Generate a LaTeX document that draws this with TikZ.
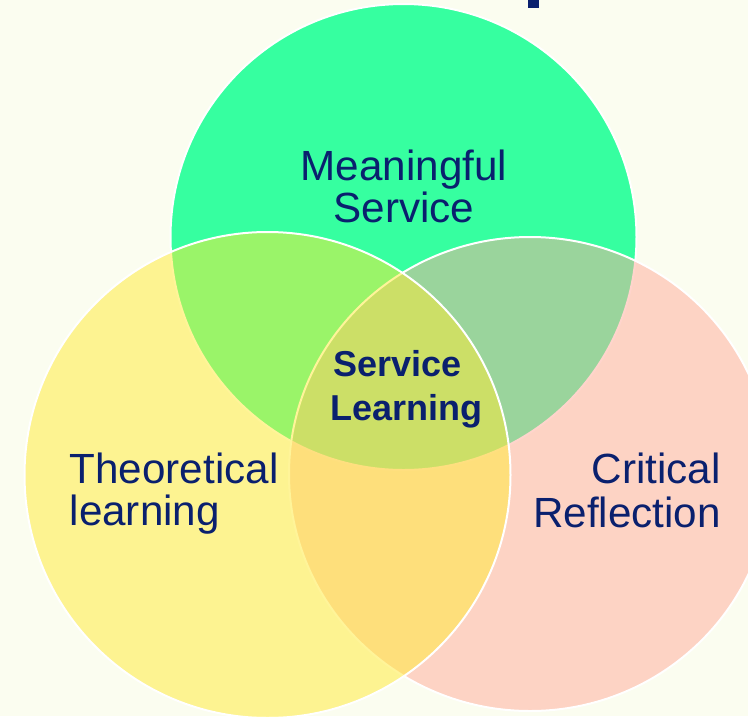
\documentclass[tikz,border=0pt]{standalone}
\usepackage{fontspec}
\setmainfont{Liberation Sans}
\definecolor{bg}{RGB}{251,253,240}
\definecolor{grn}{RGB}{54,255,160}
\definecolor{ylw}{RGB}{255,235,52}
\definecolor{pnk}{RGB}{255,171,154}
\definecolor{navy}{RGB}{10,32,110}
\tikzset{
  ring/.style={draw=white, line width=2pt},
  lbl/.style={text=navy, inner sep=0pt, font=\fontsize{42.2}{42}\selectfont},
  core/.style={text=navy, inner sep=0pt, font=\bfseries\fontsize{36}{44}\selectfont}
}
\begin{document}
\begin{tikzpicture}[x=1pt,y=-1pt]
\useasboundingbox (0,0) rectangle (748,716);
\clip (0,0) rectangle (748,716);
\fill[bg] (0,0) rectangle (748,716);
\fill[navy] (528,0) rectangle (539,8);
\path[ring, fill=grn] (403.5,237) circle[radius=233];
\path[ring, fill=pnk, fill opacity=0.5] (530,474) ellipse[x radius=241, y radius=237];
\path[ring, fill=ylw, fill opacity=0.5] (267.5,475) circle[radius=243];
\node[lbl, anchor=base] (m1) at (404,180) {Meaningful};
\node[lbl, anchor=base] (m2) at (404,222) {Service};
\node[lbl, anchor=base west] (t1) at (69.5,483) {Theoretical};
\node[lbl, anchor=base west] (t2) at (69.5,525) {learning};
\node[lbl, anchor=base east] (c1) at (721,483) {Critical};
\node[lbl, anchor=base east] (c2) at (721,527) {Reflection};
\node[core, anchor=base west] (s1) at (333.5,376) {Service};
\node[core, anchor=base west] (s2) at (330.5,420) {Learning};
\end{tikzpicture}
\end{document}
